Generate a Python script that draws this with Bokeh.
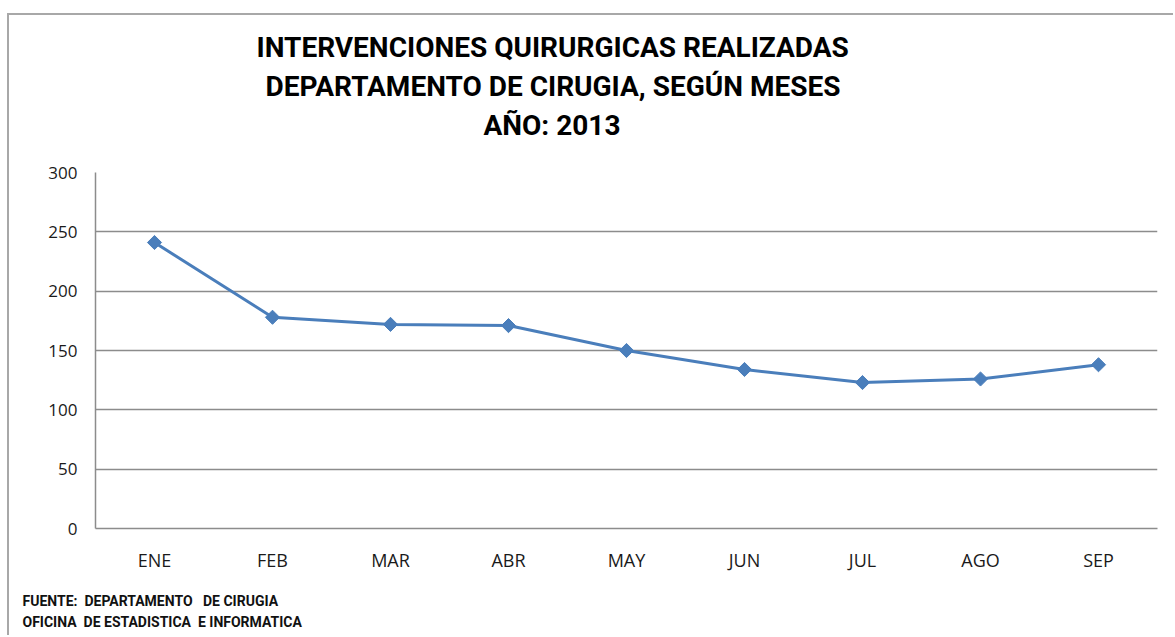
import math
from bokeh.plotting import figure
from bokeh.models import Title, FactorRange, Range1d, FixedTicker
from bokeh.embed import file_html
from bokeh.resources import INLINE

months = ["ENE", "FEB", "MAR", "ABR", "MAY", "JUN", "JUL", "AGO", "SEP"]
values = [241, 178, 172, 171, 150, 134, 123, 126, 138]
y_ticks = [0, 50, 100, 150, 200, 250, 300]
title_lines = ["INTERVENCIONES QUIRURGICAS REALIZADAS",
               "DEPARTAMENTO DE CIRUGIA, SEGÚN MESES",
               "AÑO: 2013"]
footer_lines = ["FUENTE:\u00a0 DEPARTAMENTO\u00a0\u00a0 DE CIRUGIA",
                "OFICINA\u00a0 DE ESTADISTICA\u00a0 E INFORMATICA"]

W, H = 1166, 622
p = figure(x_range=FactorRange(*months, range_padding=0), y_range=Range1d(0, 300),
           width=W, height=H, output_backend="svg", toolbar_location=None,
           min_border_left=86, min_border_right=18, min_border_top=157, min_border_bottom=109)
p.margin = (13, 0, 0, 7)
p.styles = {"border-top": "2px solid #a8a8a8", "border-left": "2px solid #a8a8a8"}
p.background_fill_color = "white"
p.border_fill_color = "white"
p.outline_line_color = None

p.line(months, values, line_color="#4a7ebb", line_width=3)
p.scatter(months, values, marker="square", size=10, angle=math.pi / 4,
          fill_color="#4a7ebb", line_color="#4a7ebb")

p.yaxis.ticker = FixedTicker(ticks=y_ticks)
p.ygrid.ticker = FixedTicker(ticks=y_ticks)
p.ygrid.grid_line_color = "#8c8c8c"
p.ygrid.grid_line_width = 1.5
p.xgrid.grid_line_color = None
for ax in (p.xaxis, p.yaxis):
    ax.axis_line_color = "#8c8c8c"
    ax.axis_line_width = 1.5
    ax.major_tick_line_color = None
    ax.minor_tick_line_color = None
    ax.major_tick_out = 0
    ax.major_tick_in = 0
    ax.major_label_text_font = "Open Sans"
    ax.major_label_text_color = "#1a1a1a"
p.yaxis.major_label_text_font_size = "17px"
p.yaxis.major_label_standoff = 18
p.xaxis.major_label_text_font_size = "18px"
p.xaxis.major_label_standoff = 19


def spacer(gap):
    # a blank 1px title that only reserves vertical space in a side panel
    return Title(text="\u00a0", text_font_size="1px", standoff=max(gap - 3, 0),
                 text_color="#ffffff")


# above the frame: spacer first (closest to frame), then title lines bottom-up
p.add_layout(spacer(29), "above")
title_offsets = [161, 170, 388]
for line, off in reversed(list(zip(title_lines, title_offsets))):
    p.add_layout(Title(text=line, align="left", offset=off, standoff=4,
                       text_font="Roboto", text_font_style="bold", text_font_size="28px",
                       text_color="#000000"), "above")

# below the x axis: spacer, then the source note
p.add_layout(spacer(17), "below")
footer = Title(text="\n".join(footer_lines), align="left", offset=-73, standoff=2,
               vertical_align="top",
               text_font="Roboto", text_font_style="bold", text_font_size="14px",
               text_line_height=1.37, text_color="#111111")
p.add_layout(footer, "below")

open("out.html", "w").write(file_html(p, INLINE))
